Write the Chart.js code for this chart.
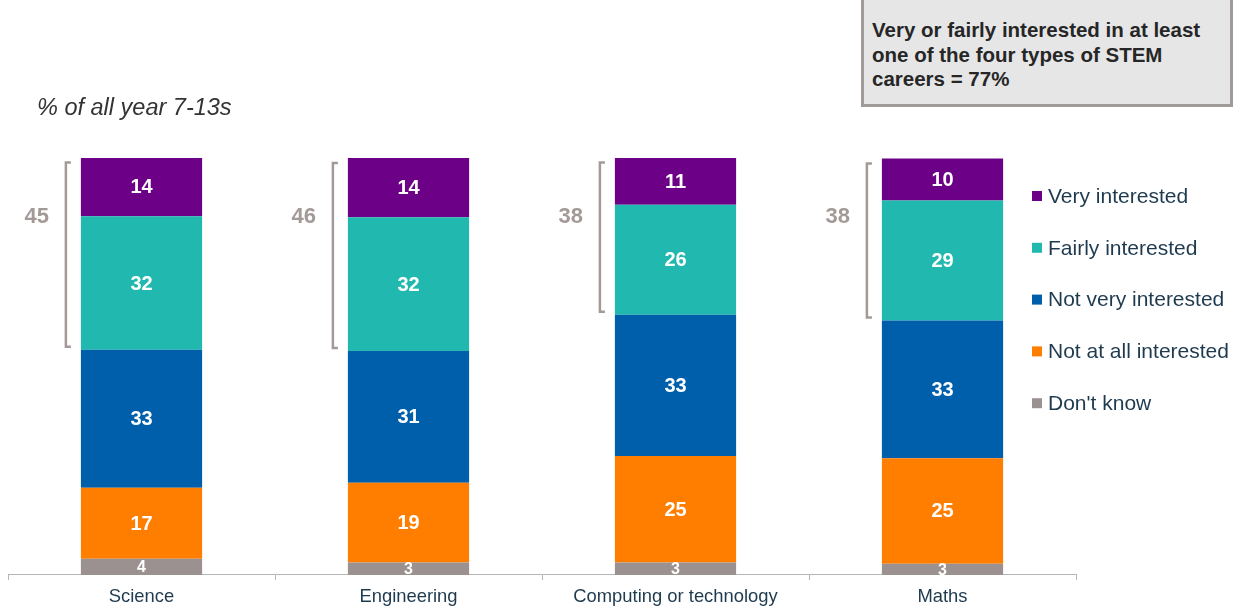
<!DOCTYPE html>
<html>
<head>
<meta charset="utf-8">
<script src="https://cdn.jsdelivr.net/npm/chart.js@4"></script>
<style>
    body { margin: 0; background: #fff; font-family: "Liberation Sans", Arial, sans-serif; }
    #wrap { position: relative; width: 1237px; height: 607px; }
    #subtitle { position: absolute; left: 37px; top: 94px; font-size: 23.5px; font-style: italic; color: #333; }
    #note {
        position: absolute; left: 861px; top: -3px; width: 372px; height: 110px;
        background: #e6e6e6; border: 3px solid #a09a98; box-sizing: border-box;
        font-size: 20.5px; font-weight: bold; color: #262626; line-height: 24.7px;
        padding: 18px 0 0 8px;
    }
</style>
</head>
<body>
<div id="wrap">
    <canvas id="chart"></canvas>
    <div id="subtitle">% of all year 7-13s</div>
    <div id="note">Very or fairly interested in at least one of the four types of STEM careers = 77%</div>
</div>
<script>
const categories = ['Science', 'Engineering', 'Computing or technology', 'Maths'];

// bar heights (bottom to top)
const dontKnow = [3.9, 3.0, 3.0, 2.7];
const notAtAll = [17.0, 19.1, 25.5, 25.3];
const notVery = [33.1, 31.6, 33.9, 33.0];
const fairly = [32.0, 32.1, 26.4, 28.8];
const very = [14.1, 14.2, 11.3, 10.1];

// numbers printed in the segments
const dontKnowLabels = [4, 3, 3, 3];
const notAtAllLabels = [17, 19, 25, 25];
const notVeryLabels = [33, 31, 33, 33];
const fairlyLabels = [32, 32, 26, 29];
const veryLabels = [14, 14, 11, 10];

// very + fairly totals next to the brackets
const interestedTotals = [45, 46, 38, 38];

const series = [
    { label: "Don't know", data: dontKnow, labels: dontKnowLabels, color: '#9c9191', size: 16 },
    { label: 'Not at all interested', data: notAtAll, labels: notAtAllLabels, color: '#ff7e00', size: 20 },
    { label: 'Not very interested', data: notVery, labels: notVeryLabels, color: '#005fab', size: 20 },
    { label: 'Fairly interested', data: fairly, labels: fairlyLabels, color: '#21b9af', size: 20 },
    { label: 'Very interested', data: very, labels: veryLabels, color: '#6c0087', size: 20 }
];

const segmentLabels = {
    id: 'segmentLabels',
    afterDatasetsDraw(chart) {
        const ctx = chart.ctx;
        ctx.save();
        ctx.fillStyle = '#fff';
        ctx.textAlign = 'center';
        ctx.textBaseline = 'middle';
        chart.data.datasets.forEach((ds, i) => {
            ctx.font = `bold ${ds.labelSize}px "Liberation Sans", Arial, sans-serif`;
            chart.getDatasetMeta(i).data.forEach((bar, j) => {
                ctx.fillText(ds.printed[j], bar.x, (bar.y + bar.base) / 2 + 1);
            });
        });
        ctx.restore();
    }
};

const brackets = {
    id: 'brackets',
    afterDatasetsDraw(chart) {
        const ctx = chart.ctx;
        const veryBars = chart.getDatasetMeta(4).data;
        const fairlyBars = chart.getDatasetMeta(3).data;
        ctx.save();
        veryBars.forEach((bar, j) => {
            const x = bar.x - bar.width / 2 - 15;
            const top = bar.y + 5;
            const bottom = fairlyBars[j].base - 3;
            ctx.strokeStyle = '#a39a98';
            ctx.lineWidth = 2.5;
            ctx.beginPath();
            ctx.moveTo(x + 5, top);
            ctx.lineTo(x, top);
            ctx.lineTo(x, bottom);
            ctx.lineTo(x + 5, bottom);
            ctx.stroke();
            ctx.fillStyle = '#a39a98';
            ctx.font = 'bold 22px "Liberation Sans", Arial, sans-serif';
            ctx.textAlign = 'right';
            ctx.textBaseline = 'middle';
            ctx.fillText(interestedTotals[j], x - 17, chart.chartArea.top + 59);
        });
        ctx.restore();
    }
};

const sideLegend = {
    id: 'sideLegend',
    afterDraw(chart) {
        const ctx = chart.ctx;
        const items = chart.data.datasets.slice().reverse();
        ctx.save();
        ctx.font = '21px "Liberation Sans", Arial, sans-serif';
        ctx.textBaseline = 'middle';
        ctx.textAlign = 'left';
        items.forEach((ds, k) => {
            const y = 196 + k * 51.8;
            ctx.fillStyle = ds.backgroundColor;
            ctx.fillRect(1032, y - 5, 10, 10);
            ctx.fillStyle = '#1e3a4f';
            ctx.fillText(ds.label, 1048, y + 1);
        });
        ctx.restore();
    }
};

new Chart(document.getElementById('chart'), {
    type: 'bar',
    data: {
        labels: categories,
        datasets: series.map(s => ({
            label: s.label,
            data: s.data,
            printed: s.labels,
            labelSize: s.size,
            backgroundColor: s.color,
            borderWidth: 0,
            barPercentage: 0.454,
            categoryPercentage: 1
        }))
    },
    options: {
        responsive: true,
        maintainAspectRatio: false,
        animation: false,
        layout: {
            padding: { left: 8, right: 161, top: 158, bottom: -7 }
        },
        plugins: {
            legend: { display: false },
            tooltip: { enabled: false }
        },
        scales: {
            x: {
                stacked: true,
                grid: {
                    offset: true,
                    drawOnChartArea: false,
                    tickLength: 5,
                    color: '#b5b5b5'
                },
                border: { color: '#b5b5b5', width: 1 },
                ticks: {
                    color: '#1e3a4f',
                    padding: 6,
                    font: { size: 18.4, family: '"Liberation Sans", Arial, sans-serif' }
                }
            },
            y: {
                stacked: true,
                display: false,
                min: 0,
                max: 100
            }
        }
    },
    plugins: [segmentLabels, brackets, sideLegend]
});
</script>
</body>
</html>
